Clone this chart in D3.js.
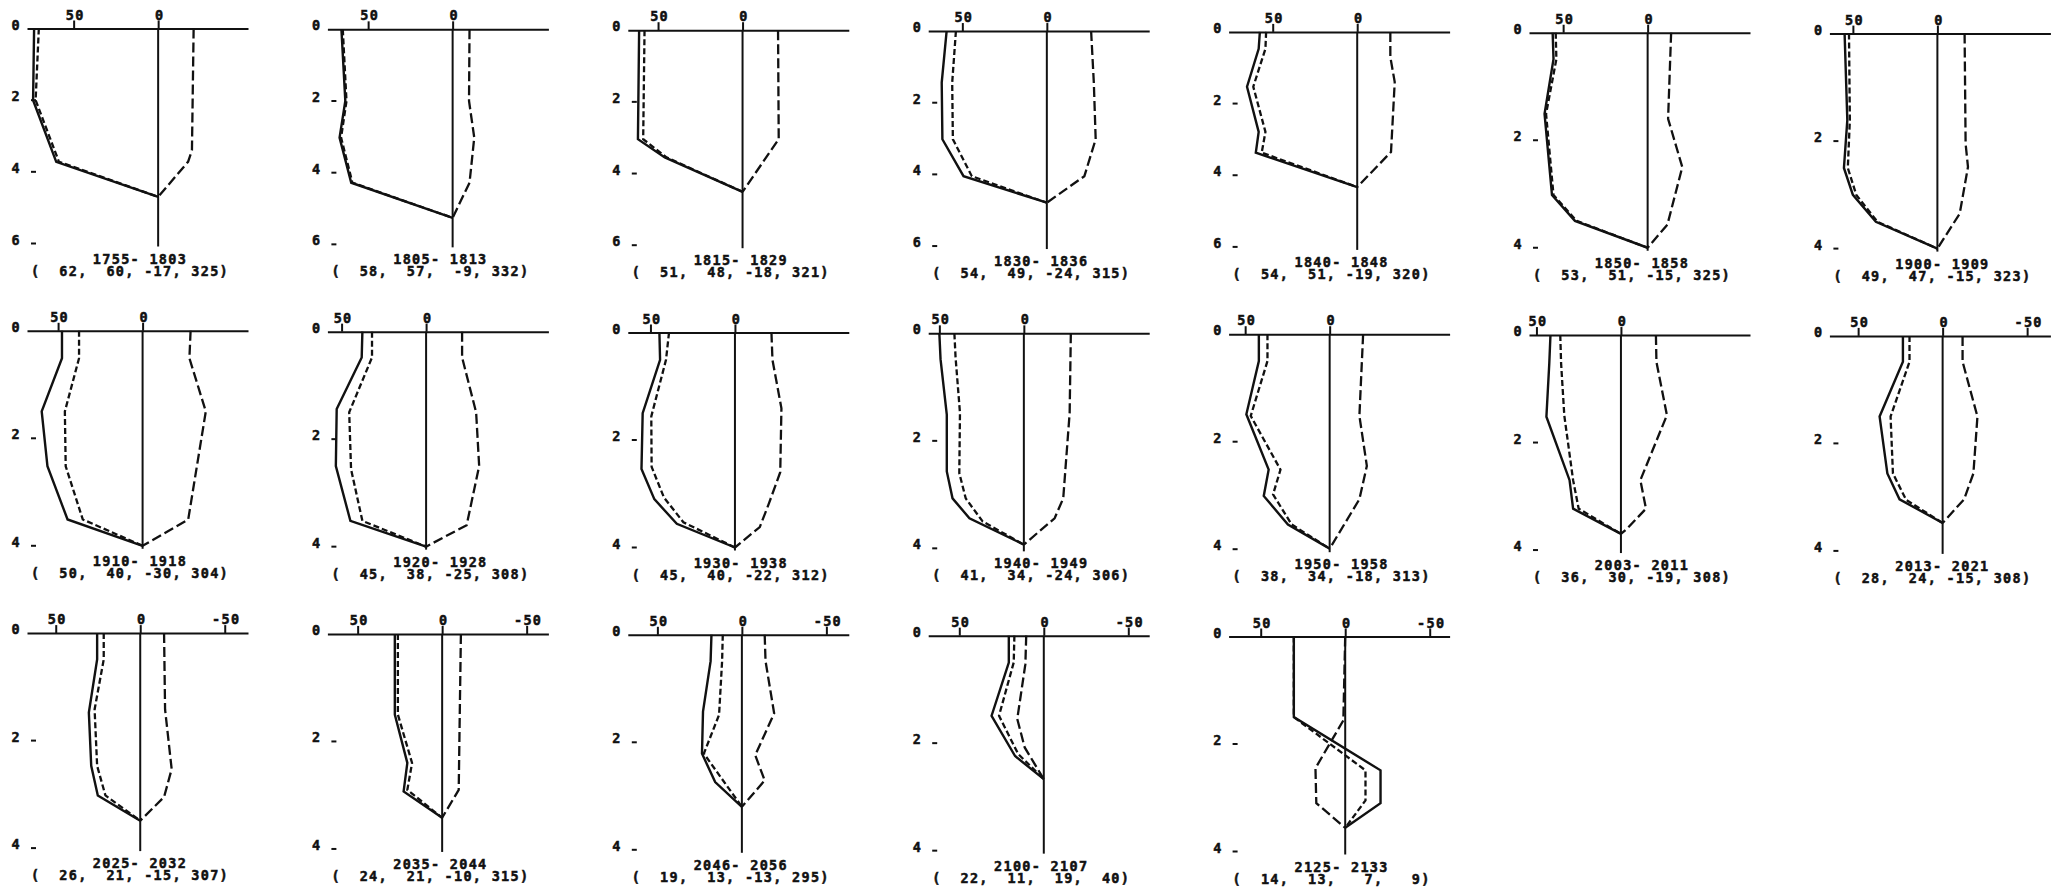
<!DOCTYPE html>
<html>
<head>
<meta charset="utf-8">
<script src="https://cdn.jsdelivr.net/npm/d3@7/dist/d3.min.js"></script>
<style>
    body { margin: 0; background: #fff; }
    svg text {
        font-family: "DejaVu Sans Mono", "Liberation Mono", monospace;
        font-weight: bold;
        font-size: 13.5px;
        letter-spacing: 1.3px;
        fill: #111;
        stroke: #111;
        stroke-width: 0.5px;
        white-space: pre;
    }
</style>
</head>
<body>
<div id="chart"></div>
<script>
// periods shown under each profile
var periods = [
    [1755, 1803], [1805, 1813], [1815, 1829], [1830, 1836], [1840, 1848], [1850, 1858], [1900, 1909],
    [1910, 1918], [1920, 1928], [1930, 1938], [1940, 1949], [1950, 1958], [2003, 2011], [2013, 2021],
    [2025, 2032], [2035, 2044], [2046, 2056], [2100, 2107], [2125, 2133]
];

// the four numbers printed in brackets
var stats = [
    [62, 60, -17, 325], [58, 57, -9, 332], [51, 48, -18, 321], [54, 49, -24, 315], [54, 51, -19, 320],
    [53, 51, -15, 325], [49, 47, -15, 323], [50, 40, -30, 304], [45, 38, -25, 308], [45, 40, -22, 312],
    [41, 34, -24, 306], [38, 34, -18, 313], [36, 30, -19, 308], [28, 24, -15, 308], [26, 21, -15, 307],
    [24, 21, -10, 315], [19, 13, -13, 295], [22, 11, 19, 40], [14, 13, 7, 9]
];

// depth axis extent (0..6 or 0..4)
var depthMax = [6, 6, 6, 6, 6, 4, 4, 4, 4, 4, 4, 4, 4, 4, 4, 4, 4, 4, 4];

// value at the left end of the top axis (the axis runs towards negative values)
var axisLeft = [77.6, 74.1, 67.9, 70.2, 76.1, 70.2, 63.9, 68.4, 58.4, 63.4, 56.6, 59.8, 54.4, 67, 67, 67.9, 67.5, 68.4, 69];

var topTicks = [
    [50, 0], [50, 0], [50, 0], [50, 0], [50, 0], [50, 0], [50, 0],
    [50, 0], [50, 0], [50, 0], [50, 0], [50, 0], [50, 0], [50, 0, -50],
    [50, 0, -50], [50, 0, -50], [50, 0, -50], [50, 0, -50], [50, 0, -50]
];

// profiles as [depth, value]
var solidProfiles = [
    [[0, 73.4], [2, 74], [3.72, 60.3], [4.7, 0]],
    [[0, 65.8], [2, 63.5], [3.02, 66.9], [4.28, 60], [5.26, 0]],
    [[0, 61.2], [3.04, 61.9], [3.55, 46], [4.51, 0]],
    [[0, 59.3], [1.44, 62.2], [3.02, 61.8], [4.05, 49.3], [4.79, 0]],
    [[0, 57.6], [0.47, 58.3], [1.53, 65.2], [2.79, 58.3], [3.37, 60], [4.33, 0]],
    [[0, 56.2], [0.49, 55.7], [1.51, 61], [3.02, 56.6], [3.5, 43], [4, 0]],
    [[0, 54.9], [1.61, 53.3], [2.5, 55.3], [3, 50], [3.5, 36.4], [4, 0]],
    [[0, 47.7], [0.51, 47.7], [1.5, 59.7], [2.52, 56.3], [3.51, 44.4], [4, 0]],
    [[0, 37.7], [0.48, 38.1], [1.44, 52.9], [2.5, 53.4], [3.52, 44.8], [4, 0]],
    [[0, 44.7], [0.51, 44.3], [1.5, 54.6], [2.54, 55.3], [3.1, 47.7], [3.56, 34.4], [4, 0]],
    [[0, 50], [0.48, 49.3], [1.51, 45.6], [2.57, 45.6], [3.07, 42.2], [3.44, 32.2], [3.93, 0]],
    [[0, 41.9], [0.5, 41.9], [1.49, 49.3], [2.52, 36.1], [3.01, 39], [3.54, 24.7], [3.99, 0]],
    [[0, 41.7], [0.53, 42.4], [1.52, 44.1], [2.7, 30.4], [3.23, 28.3], [3.7, 0]],
    [[0, 23.5], [0.48, 23.5], [1.5, 37.3], [2.56, 32.7], [3.04, 25.5], [3.48, 0]],
    [[0, 25.5], [0.49, 25.5], [1.48, 30.4], [2.47, 29], [3.02, 25.1], [3.49, 0]],
    [[0, 28], [1.5, 28], [2.4, 20.6], [2.93, 22.8], [3.42, 0]],
    [[0, 18], [0.49, 18.5], [1.43, 23], [2.21, 23.6], [2.74, 15.8], [3.2, 0]],
    [[0, 20.7], [0.5, 20.7], [1.49, 30.9], [2.24, 17], [2.67, 0]],
    [[0, 30.4], [1.5, 30.4], [2.49, -20.9], [3.1, -20.9], [3.56, 0]]
];

var nearProfiles = [
    [[0, 70.6], [2, 72.5], [3.72, 58.7], [4.7, 0]],
    [[0, 65], [2, 62.8], [3.02, 66], [4.28, 59.3], [5.26, 0]],
    [[0, 58], [3.04, 58.8], [3.55, 45], [4.51, 0]],
    [[0, 53.8], [1.44, 56], [3.02, 55.6], [4.05, 44.4], [4.79, 0]],
    [[0, 53.9], [0.47, 54.3], [1.53, 61.5], [2.79, 54.3], [3.37, 56.5], [4.33, 0]],
    [[0, 54.4], [0.49, 54], [1.51, 60.1], [3.02, 55.7], [3.5, 42], [4, 0]],
    [[0, 52.3], [1.61, 51.8], [2.5, 53], [3, 48], [3.5, 35.5], [4, 0]],
    [[0, 37.6], [0.51, 37.6], [1.5, 46], [2.52, 45.5], [3.51, 35.4], [4, 0]],
    [[0, 32], [0.48, 32], [1.5, 45.5], [2.56, 44.4], [3.52, 37.7], [4, 0]],
    [[0, 39], [0.51, 40.8], [1.56, 49.5], [2.5, 49.3], [3.07, 42], [3.53, 30.5], [4, 0]],
    [[0, 41.1], [0.45, 40.4], [1.48, 37.8], [2.6, 38.2], [3.07, 34.4], [3.5, 24.4], [3.93, 0]],
    [[0, 36.8], [0.5, 36.8], [1.52, 46.7], [2.52, 29.1], [2.98, 33.5], [3.54, 22.5], [3.99, 0]],
    [[0, 35.9], [0.53, 35.4], [1.5, 33.5], [2.7, 28.3], [3.23, 25], [3.7, 0]],
    [[0, 19.6], [0.48, 19.6], [1.5, 30.8], [2.56, 29.4], [3.05, 21.6], [3.48, 0]],
    [[0, 21.6], [0.49, 21.6], [1.42, 27], [2.47, 25.5], [3.02, 20.6], [3.49, 0]],
    [[0, 26.2], [1.5, 26.2], [2.4, 17.8], [2.9, 20.6], [3.42, 0]],
    [[0, 11.3], [0.49, 11.7], [1.49, 13.5], [2.21, 22.5], [3.2, 0]],
    [[0, 17.4], [0.5, 17.8], [1.49, 26.5], [2.2, 15.2], [2.67, 0]],
    [[0, 30.4], [1.5, 30.4], [2.49, -12], [3.05, -12], [3.56, 0]]
];

var farProfiles = [
    [[0, -21], [3.4, -20], [3.72, -17.7], [4.7, 0]],
    [[0, -10], [2, -9.7], [3.02, -12.8], [4.28, -10], [5.26, 0]],
    [[0, -21], [3.04, -21.4], [4.51, 0]],
    [[0, -26.2], [1.44, -27.8], [3.02, -28.9], [4.05, -22.2], [4.79, 0]],
    [[0, -19.6], [0.7, -19.6], [1.4, -22.2], [3.35, -20], [4.33, 0]],
    [[0, -13.9], [1.6, -12.1], [2.5, -20.5], [3.57, -11.7], [4, 0]],
    [[0, -16.1], [2.05, -16.7], [2.48, -18.1], [3.35, -13.2], [4, 0]],
    [[0, -28.4], [0.51, -27.7], [1.5, -37.4], [3.51, -27], [4, 0]],
    [[0, -21.3], [0.48, -21.3], [1.5, -29.6], [2.5, -31.4], [3.6, -24], [4, 0]],
    [[0, -21.6], [0.51, -22.2], [1.41, -27.5], [2.6, -26.8], [3.19, -20], [3.62, -14.7], [4, 0]],
    [[0, -27.8], [1.48, -27.1], [3.07, -23.3], [3.44, -18.2], [3.93, 0]],
    [[0, -19.8], [1.52, -17.6], [2.45, -22], [3.07, -17.6], [3.99, 0]],
    [[0, -20.7], [0.5, -21], [1.49, -27.2], [2.7, -11.5], [3.23, -14.8], [3.6, -3.7], [3.7, 0]],
    [[0, -11.8], [0.48, -11.8], [1.5, -20.6], [2.56, -18.2], [3.04, -12.7], [3.48, 0]],
    [[0, -14.1], [1.42, -14.7], [2.53, -18.6], [3.05, -14.1], [3.49, 0]],
    [[0, -11.1], [1.53, -10.4], [2.9, -9.8], [3.42, 0]],
    [[0, -13.5], [0.49, -14], [1.46, -19.1], [2.24, -7.9], [2.71, -13.5], [3.2, 0]],
    [[0, 10.4], [0.53, 10.9], [1.55, 15.7], [2.08, 11.3], [2.67, 0]],
    [[0, 0], [1.56, 1.1], [2.45, 17.6], [3.1, 17.1], [3.56, 0]]
];

var width = 2059,
    height = 893,
    columns = 7,
    colX0 = 27,
    colStep = 300.4,
    rowY0 = 28.5,
    rowStep = 302.3,
    skew = 0.85,        // the scan is slightly tilted
    axisWidth = 221,
    unitPx = 1.69,
    depthPx = 215,
    ink = "#111";

var svg = d3.select("#chart")
    .append("svg")
    .attr("width", width)
    .attr("height", height);

function pad(n, w) {
    return String(n).padStart(w, " ");
}

function drawPanel(i) {
    var col = i % columns,
        row = Math.floor(i / columns),
        left = colX0 + colStep * col,
        top = rowY0 + rowStep * row + skew * col,
        x, y, g, line, depthTicks, zero;

    x = d3.scaleLinear()
        .domain([axisLeft[i], axisLeft[i] - axisWidth / unitPx])
        .range([left, left + axisWidth]);

    y = d3.scaleLinear()
        .domain([0, depthMax[i]])
        .range([top, top + depthPx]);

    g = svg.append("g").attr("class", "panel");

    // top value axis
    g.append("g")
        .attr("transform", "translate(0," + top + ")")
        .call(d3.axisTop(x)
            .tickValues(topTicks[i])
            .tickSize(8)
            .tickSizeOuter(0)
            .tickPadding(1)
            .tickFormat(function (d) { return String(d); }))
        .call(function (a) {
            a.select(".domain").attr("stroke", ink).attr("stroke-width", 2);
            a.selectAll(".tick line").attr("stroke", ink).attr("stroke-width", 2);
            a.selectAll(".tick text").attr("fill", ink).attr("dx", "1px");
        });

    // zero line
    zero = x(0);
    g.append("line")
        .attr("x1", zero).attr("x2", zero)
        .attr("y1", top).attr("y2", y(depthMax[i]) + 3)
        .attr("stroke", ink)
        .attr("stroke-width", 2);

    // depth ticks
    depthTicks = d3.range(0, depthMax[i] + 1, 2);

    g.selectAll(".dlabel")
        .data(depthTicks)
        .enter()
        .append("text")
        .attr("class", "dlabel")
        .attr("x", left - 6)
        .attr("y", function (d) { return y(d) + 1; })
        .attr("text-anchor", "end")
        .text(function (d) { return d; });

    g.selectAll(".dtick")
        .data(depthTicks.filter(function (d) { return d > 0; }))
        .enter()
        .append("line")
        .attr("class", "dtick")
        .attr("x1", left + 4).attr("x2", left + 9)
        .attr("y1", y).attr("y2", y)
        .attr("stroke", ink)
        .attr("stroke-width", 2);

    line = d3.line()
        .x(function (d) { return x(d[1]); })
        .y(function (d) { return y(d[0]); });

    g.append("path")
        .datum(farProfiles[i])
        .attr("d", line)
        .attr("fill", "none")
        .attr("stroke", ink)
        .attr("stroke-width", 2.3)
        .attr("stroke-dasharray", "10,4");

    g.append("path")
        .datum(nearProfiles[i])
        .attr("d", line)
        .attr("fill", "none")
        .attr("stroke", ink)
        .attr("stroke-width", 2.3)
        .attr("stroke-dasharray", "6,3");

    g.append("path")
        .datum(solidProfiles[i])
        .attr("d", line)
        .attr("fill", "none")
        .attr("stroke", ink)
        .attr("stroke-width", 2.4);

    // captions
    g.append("text")
        .attr("x", left + 113)
        .attr("y", top + 235)
        .attr("text-anchor", "middle")
        .text(periods[i][0] + "-" + pad(periods[i][1], 5));

    g.append("text")
        .attr("x", left + 103)
        .attr("y", top + 247)
        .attr("text-anchor", "middle")
        .text("(" + stats[i].map(function (v) { return pad(v, 4); }).join(",") + ")");
}

periods.forEach(function (p, i) {
    drawPanel(i);
});
</script>
</body>
</html>
